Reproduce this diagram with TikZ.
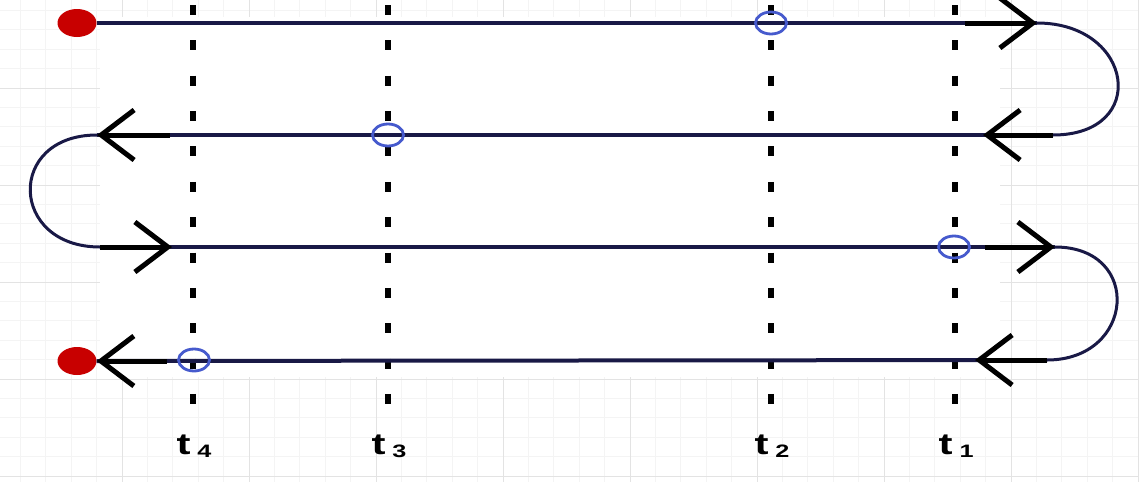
\documentclass[tikz,border=0pt]{standalone}
\usepackage{fontspec}
\setmainfont{Liberation Sans}
\usetikzlibrary{arrows.meta,shapes.geometric}
\definecolor{pathnavy}{RGB}{25,25,70}
\definecolor{dotred}{RGB}{200,0,0}
\definecolor{crossblue}{RGB}{70,90,205}
\newcommand{\tmark}[1]{\scalebox{1.4}[1]{t\hspace{5pt}\raisebox{-3pt}{\fontsize{18}{18}\selectfont #1}}}

\begin{document}
\begin{tikzpicture}[x=1pt, y=-1pt,
    minor/.style={draw=gray!9, line width=0.8pt},
    major/.style={draw=gray!22, line width=0.8pt},
    lane/.style={draw=pathnavy, line width=4pt},
    turn/.style={draw=pathnavy, line width=3pt},
    arrow/.style={line width=5pt, -{Straight Barb[length=33pt, width=50pt, line width=5pt, sharp]}},
    timeline/.style={line width=6pt, dash pattern=on 10pt off 25.36pt},
    enddot/.style={ellipse, fill=dotred, minimum width=39pt, minimum height=28pt, inner sep=0pt},
    hit/.style={ellipse, draw=crossblue, line width=2.8pt, minimum width=31pt, minimum height=22pt, inner sep=0pt},
    tlabel/.style={font=\bfseries\fontsize{30}{30}\selectfont, anchor=base, inner sep=0pt}
]
\useasboundingbox (0,0) rectangle (1139,482);

% sheet grid in the background
\foreach \gx in {20.4,45.8,...,1139} \draw[minor] (\gx,0) -- (\gx,482);
\foreach \gy in {10.4,29.8,...,482} \draw[minor] (0,\gy) -- (1139,\gy);
\foreach \gx in {122,249,...,1139} \draw[major] (\gx,0) -- (\gx,482);
\foreach \gy in {88,185,...,482} \draw[major] (0,\gy) -- (1139,\gy);
\fill[white] (100,17) rectangle (1000,377);

% time marks
\foreach \x/\n in {193/4,388/3,771/2,955/1} {
    \coordinate (top\n) at (\x,5);
    \coordinate (bot\n) at (\x,405);
    \draw[timeline] (top\n) -- (bot\n);
    \node[tlabel] (lab\n) at (\x+1,454) {\tmark{\n}};
}

\node[enddot] (start) at (77,23) {};
\node[enddot] (stop) at (77,361) {};

\coordinate (e1) at (1037,23);
\coordinate (s2) at (1053,135);
\coordinate (e2) at (97,135);
\coordinate (s3) at (100,247);
\coordinate (e3) at (1055,247);
\coordinate (s4) at (1047,360);

% the path
\draw[lane] (start.east) -- (e1);
\draw[turn] (e1) .. controls +(97,0) and +(97,0) .. (s2);
\draw[lane] (s2) -- (e2);
\draw[turn] (e2) .. controls +(-91,0) and +(-91,0) .. (s3);
\draw[lane] (s3) -- (e3);
\draw[turn] (e3) .. controls +(88,0) and +(88,0) .. (s4);
\draw[lane] (s4) -- (stop.east);

\draw[arrow] ([xshift=-72pt]e1) -- (e1);
\draw[arrow] (s2) -- ([xshift=-70pt]s2);
\draw[arrow] ([xshift=73pt]e2) -- (e2);
\draw[arrow] (s3) -- ([xshift=72pt]s3);
\draw[arrow] ([xshift=-70pt]e3) -- (e3);
\draw[arrow] (s4) -- ([xshift=-72pt]s4);
\draw[arrow] ([xshift=70pt]stop.east) -- (stop.east);

\node[hit] (h2) at (771,23) {};
\node[hit] (h3) at (388,135) {};
\node[hit] (h1) at (954,247) {};
\node[hit] (h4) at (194,360) {};
\end{tikzpicture}
\end{document}
